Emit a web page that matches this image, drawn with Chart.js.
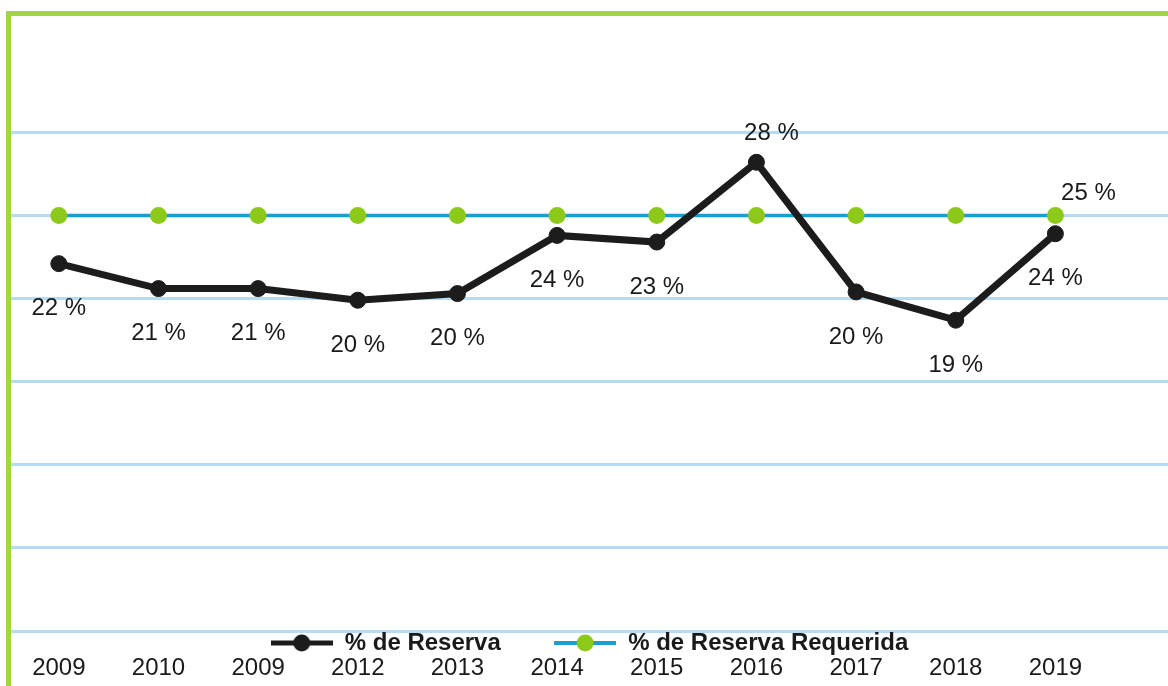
<!DOCTYPE html>
<html>
<head>
<meta charset="utf-8">
<script src="https://cdn.jsdelivr.net/npm/chart.js@4.4.1/dist/chart.umd.min.js"></script>
<style>
  html, body { margin: 0; padding: 0; background: #fff; }
  .frame {
    position: absolute; left: 6px; top: 11px; width: 1162px; height: 675px;
    box-sizing: border-box;
    border-left: 5px solid #a2d646;
    border-top: 5px solid #a2d646;
  }
  .frame canvas { display: block; }
</style>
</head>
<body>
<div class="frame"><canvas id="reservaChart"></canvas></div>
<script>
// Data
const years = ['2009', '2010', '2009', '2012', '2013', '2014', '2015', '2016', '2017', '2018', '2019'];
const reserva = [22.1, 20.6, 20.6, 19.9, 20.3, 23.8, 23.4, 28.2, 20.4, 18.7, 23.9];
const reservaRequerida = [25, 25, 25, 25, 25, 25, 25, 25, 25, 25, 25];
const legendNames = ['% de Reserva', '% de Reserva Requerida'];

const colors = {
  black: '#1c1c1c',
  blue: '#14a0d6',
  green: '#8cc919',
  grid: '#b5dcf3',
  text: '#1a1a1a',
};
const fontFamily = "'Liberation Sans', Arial, Helvetica, sans-serif";

// Line + dot marker used in the legend
function legendMarker(lineColor, lineWidth, dotColor) {
  const c = document.createElement('canvas');
  c.width = 62;
  c.height = 20;
  const ctx = c.getContext('2d');
  ctx.strokeStyle = lineColor;
  ctx.lineWidth = lineWidth;
  ctx.beginPath();
  ctx.moveTo(0, 10);
  ctx.lineTo(62, 10);
  ctx.stroke();
  ctx.fillStyle = dotColor;
  ctx.beginPath();
  ctx.arc(31, 10, 8.5, 0, Math.PI * 2);
  ctx.fill();
  return c;
}

// Percentage labels next to the points
const pointLabels = {
  id: 'pointLabels',
  afterDatasetsDraw(chart) {
    const ctx = chart.ctx;
    ctx.save();
    ctx.font = '24px ' + fontFamily;
    ctx.fillStyle = colors.text;
    ctx.textAlign = 'center';
    ctx.textBaseline = 'middle';

    // peak gets its label above, the others below
    const top = Math.max(...reserva);
    chart.getDatasetMeta(0).data.forEach((pt, i) => {
      const v = reserva[i];
      if (v === top) {
        ctx.fillText(Math.round(v) + ' %', pt.x + 15, pt.y - 29);
      } else {
        ctx.fillText(Math.round(v) + ' %', pt.x, pt.y + 45);
      }
    });

    const req = chart.getDatasetMeta(1).data;
    const last = req[req.length - 1];
    ctx.fillText(Math.round(reservaRequerida[req.length - 1]) + ' %', last.x + 33, last.y - 22);
    ctx.restore();
  }
};

document.addEventListener('DOMContentLoaded', function () {
  const markers = [
    legendMarker(colors.black, 5, colors.black),
    legendMarker(colors.blue, 4, colors.green),
  ];

  new Chart(document.getElementById('reservaChart'), {
    type: 'line',
    data: {
      datasets: [{
        label: legendNames[0],
        data: reserva.map((v, i) => ({ x: i, y: v })),
        borderColor: colors.black,
        backgroundColor: colors.black,
        borderWidth: 7,
        pointRadius: 8,
        pointBorderWidth: 1,
        pointBackgroundColor: colors.black,
        pointBorderColor: colors.black,
        tension: 0
      }, {
        label: legendNames[1],
        data: reservaRequerida.map((v, i) => ({ x: i, y: v })),
        borderColor: colors.blue,
        backgroundColor: colors.green,
        borderWidth: 3.5,
        pointRadius: 8.5,
        pointBorderWidth: 0,
        pointBackgroundColor: colors.green,
        tension: 0
      }]
    },
    options: {
      responsive: true,
      maintainAspectRatio: false,
      animation: false,
      layout: { autoPadding: false, padding: 0 },
      scales: {
        x: {
          type: 'linear',
          min: -0.48,
          max: 11.13,
          grid: { display: false, drawTicks: false },
          border: { display: false },
          afterBuildTicks: scale => {
            scale.ticks = years.map((_, i) => ({ value: i }));
          },
          // fixed axis height so the legend can sit between plot and years
          afterFit: scale => { scale.height = 21; },
          ticks: {
            autoSkip: false,
            maxRotation: 0,
            mirror: true,
            padding: -17.5,
            color: colors.text,
            font: { family: fontFamily, size: 24 },
            callback: v => years[v] ?? ''
          }
        },
        y: {
          min: 0,
          max: 37,
          border: { display: false },
          grid: {
            drawTicks: false,
            lineWidth: 3,
            color: c => (c.tick && c.tick.value <= 30 ? colors.grid : 'rgba(0,0,0,0)')
          },
          ticks: { display: false, stepSize: 5 }
        }
      },
      plugins: {
        tooltip: { enabled: false },
        legend: {
          position: 'bottom',
          weight: -1,
          labels: {
            usePointStyle: true,
            pointStyleWidth: 62,
            padding: 0,
            color: colors.text,
            font: { family: fontFamily, size: 24, weight: 'bold' },
            generateLabels: () => legendNames.map((name, i) => ({
              text: i === 0 ? name + '        ' : name,
              pointStyle: markers[i],
              fontColor: colors.text,
              fillStyle: 'transparent',
              strokeStyle: 'transparent',
              lineWidth: 0,
              datasetIndex: i
            }))
          }
        }
      }
    },
    plugins: [pointLabels]
  });
});
</script>
</body>
</html>
